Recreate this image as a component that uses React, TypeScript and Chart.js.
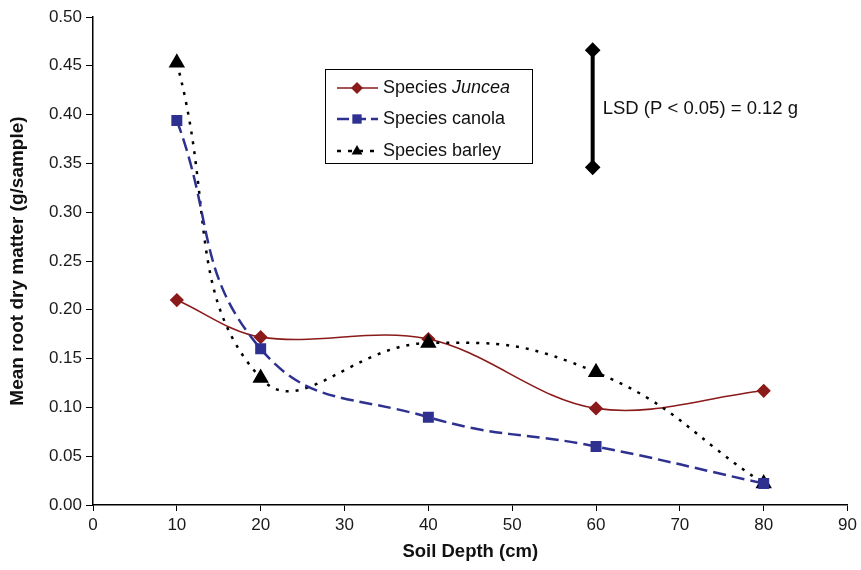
import React, { useEffect, useRef } from "react";
import { Chart, registerables } from "chart.js";

Chart.register(...registerables);

const depths = [10, 20, 40, 60, 80];
const junceaValues = [0.21, 0.172, 0.17, 0.099, 0.117];
const canolaValues = [0.394, 0.16, 0.09, 0.06, 0.022];
const barleyValues = [0.453, 0.13, 0.166, 0.136, 0.022];
const lsdX = 59.6;
const lsdRange = [0.346, 0.466];
const lsdLabel = "LSD (P < 0.05) = 0.12 g";
const legendLabels = [
  { prefix: "Species ", italic: "Juncea" },
  { prefix: "Species canola", italic: "" },
  { prefix: "Species barley", italic: "" },
];

const RED = "#8b1a1a";
const BLUE = "#2e3190";
const BLACK = "#000000";
const FONT = "'Liberation Sans', Arial, Helvetica, sans-serif";

function drawMarker(ctx: CanvasRenderingContext2D, style: string, x: number, y: number, r: number, color: string) {
  ctx.save();
  ctx.fillStyle = color;
  ctx.setLineDash([]);
  ctx.beginPath();
  if (style === "rectRot") {
    ctx.moveTo(x, y - r);
    ctx.lineTo(x + r, y);
    ctx.lineTo(x, y + r);
    ctx.lineTo(x - r, y);
  } else if (style === "rect") {
    ctx.rect(x - r * 0.85, y - r * 0.85, r * 1.7, r * 1.7);
  } else {
    ctx.moveTo(x, y - r);
    ctx.lineTo(x + r * 0.9, y + r * 0.6);
    ctx.lineTo(x - r * 0.9, y + r * 0.6);
  }
  ctx.closePath();
  ctx.fill();
  ctx.restore();
}

const annotPlugin = {
  id: "annot",
  afterDatasetsDraw(chart: any) {
    const ctx: CanvasRenderingContext2D = chart.ctx;
    const xs = chart.scales.x;
    const ys = chart.scales.y;
    // LSD label
    ctx.save();
    ctx.font = `18.5px ${FONT}`;
    ctx.fillStyle = "#111";
    ctx.textBaseline = "middle";
    ctx.textAlign = "left";
    const lx = xs.getPixelForValue(lsdX) + 10;
    const ly = ys.getPixelForValue((lsdRange[0] + lsdRange[1]) / 2);
    ctx.fillText(lsdLabel, lx, ly);
    ctx.restore();

    // Legend box
    const bx = 325, by = 69, bw = 207, bh = 94;
    ctx.save();
    ctx.fillStyle = "#fff";
    ctx.fillRect(bx, by, bw, bh);
    ctx.strokeStyle = "#000";
    ctx.lineWidth = 1;
    ctx.strokeRect(bx + 0.5, by + 0.5, bw, bh);
    const rows = [
      { y: 88, color: RED, dash: [] as number[], width: 1.5, marker: "rectRot", r: 6 },
      { y: 119, color: BLUE, dash: [12, 5], width: 2.5, marker: "rect", r: 5.5 },
      { y: 151, color: BLACK, dash: [4, 7], width: 2.5, marker: "triangle", r: 6 },
    ];
    rows.forEach((row, i) => {
      ctx.save();
      ctx.strokeStyle = row.color;
      ctx.lineWidth = row.width;
      ctx.setLineDash(row.dash);
      ctx.beginPath();
      ctx.moveTo(337, row.y);
      ctx.lineTo(378, row.y);
      ctx.stroke();
      ctx.restore();
      drawMarker(ctx, row.marker, 357, row.y, row.r, row.color);
      ctx.font = `18px ${FONT}`;
      ctx.fillStyle = "#111";
      ctx.textBaseline = "middle";
      ctx.textAlign = "left";
      const lab = legendLabels[i];
      ctx.fillText(lab.prefix, 383, row.y);
      if (lab.italic) {
        const w = ctx.measureText(lab.prefix).width;
        ctx.font = `italic 18px ${FONT}`;
        ctx.fillText(lab.italic, 383 + w, row.y);
      }
    });
    ctx.restore();
  },
};

export default function App() {
  const ref = useRef<HTMLCanvasElement>(null);
  useEffect(() => {
    document.body.style.margin = "0";
    const pts = (vals: number[]) => depths.map((d, i) => ({ x: d, y: vals[i] }));
    const chart = new Chart(ref.current!, {
      type: "line",
      data: {
        datasets: [
          {
            label: "lsd",
            data: [{ x: lsdX, y: lsdRange[0] }, { x: lsdX, y: lsdRange[1] }],
            borderColor: BLACK,
            backgroundColor: BLACK,
            borderWidth: 4,
            pointStyle: "rectRot",
            pointRadius: 5,
            tension: 0,
          },
          {
            label: "Species canola",
            data: pts(canolaValues),
            borderColor: BLUE,
            backgroundColor: BLUE,
            borderWidth: 2.5,
            borderDash: [13, 6],
            pointStyle: "rect",
            pointRadius: 6,
            tension: 0.45,
          },
          {
            label: "Species barley",
            data: pts(barleyValues),
            borderColor: BLACK,
            backgroundColor: BLACK,
            borderWidth: 2.5,
            borderDash: [3, 7],
            pointStyle: "triangle",
            pointRadius: 7,
            tension: 0.45,
          },
          {
            label: "Species Juncea",
            data: pts(junceaValues),
            borderColor: RED,
            backgroundColor: RED,
            borderWidth: 1.6,
            pointStyle: "rectRot",
            pointRadius: 6,
            tension: 0.35,
          },
        ],
      },
      options: {
        animation: false,
        responsive: false,
        layout: { padding: { top: 17, right: 10, left: 0, bottom: 0 } },
        plugins: { legend: { display: false }, tooltip: { enabled: false } },
        elements: { point: { borderWidth: 0 } },
        scales: {
          x: {
            type: "linear",
            min: 0,
            max: 90,
            ticks: { stepSize: 10, color: "#1a1a1a", font: { size: 17, family: FONT }, padding: 4 },
            grid: { drawOnChartArea: false, drawTicks: true, tickLength: 6, color: "#000" },
            border: { color: "#000", width: 1.5 },
            title: { display: true, text: "Soil Depth (cm)", color: "#111", font: { size: 18.5, weight: "bold", family: FONT }, padding: { top: 0, bottom: 7 } },
            afterFit: (s: any) => { s.height = 65; },
          },
          y: {
            type: "linear",
            min: 0,
            max: 0.5,
            ticks: { stepSize: 0.05, color: "#1a1a1a", font: { size: 17, family: FONT }, padding: 4, callback: (v: any) => Number(v).toFixed(2) },
            grid: { drawOnChartArea: false, drawTicks: true, tickLength: 7, color: "#000" },
            border: { color: "#000", width: 1.5 },
            title: { display: true, text: "Mean root dry matter (g/sample)", color: "#111", font: { size: 19, weight: "bold", family: FONT }, padding: { top: 6, bottom: 0 } },
            afterFit: (s: any) => { s.width = 93; },
          },
        },
      } as any,
      plugins: [annotPlugin],
    });
    return () => chart.destroy();
  }, []);
  return (
    <div style={{ position: "absolute", left: 0, top: 0, width: 861, height: 570, background: "#fff" }}>
      <canvas ref={ref} width={861} height={570} style={{ display: "block" }} />
    </div>
  );
}
